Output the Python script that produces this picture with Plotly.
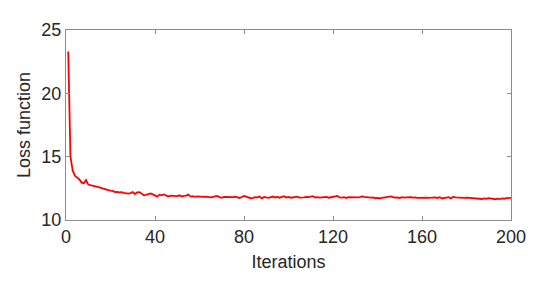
import plotly.graph_objects as go

# ---------------------------------------------------------------
# data
# ---------------------------------------------------------------
iterations = list(range(1, 201))

loss = [
    23.30, 15.00, 13.90, 13.50, 13.35, 13.20, 12.95, 12.90, 13.15, 12.80,
    12.75, 12.72, 12.68, 12.62, 12.58, 12.52, 12.45, 12.40, 12.35, 12.32,
    12.30, 12.20, 12.22, 12.18, 12.20, 12.14, 12.10, 12.08, 12.12, 12.20,
    12.05, 12.18, 12.20, 12.05, 11.95, 11.98, 12.05, 12.10, 12.02, 11.90,
    11.85, 12.00, 11.95, 12.02, 11.90, 11.85, 11.92, 11.90, 11.93, 11.88,
    11.95, 11.85, 11.90, 11.92, 12.00, 11.85, 11.88, 11.83, 11.86, 11.84,
    11.87, 11.82, 11.85, 11.80, 11.78, 11.82, 11.85, 11.90, 11.80, 11.75,
    11.82, 11.80, 11.78, 11.82, 11.80, 11.85, 11.78, 11.74, 11.82, 11.90,
    11.85, 11.78, 11.72, 11.75, 11.80, 11.78, 11.85, 11.70, 11.82, 11.78,
    11.75, 11.80, 11.85, 11.78, 11.82, 11.76, 11.80, 11.88, 11.78, 11.82,
    11.76, 11.80, 11.78, 11.84, 11.76, 11.80, 11.78, 11.82, 11.80, 11.84,
    11.88, 11.78, 11.80, 11.76, 11.80, 11.78, 11.82, 11.76, 11.80, 11.82,
    11.84, 11.90, 11.78, 11.76, 11.80, 11.74, 11.80, 11.78, 11.82, 11.76,
    11.78, 11.80, 11.86, 11.82, 11.78, 11.80, 11.76, 11.78, 11.72, 11.75,
    11.70, 11.74, 11.78, 11.80, 11.82, 11.86, 11.80, 11.76, 11.78, 11.74,
    11.80, 11.76, 11.78, 11.82, 11.80, 11.76, 11.78, 11.74, 11.76, 11.78,
    11.75, 11.77, 11.74, 11.76, 11.72, 11.78, 11.74, 11.80, 11.70, 11.72,
    11.76, 11.80, 11.70, 11.84, 11.78, 11.76, 11.78, 11.75, 11.74, 11.76,
    11.74, 11.72, 11.75, 11.70, 11.68, 11.70, 11.66, 11.70, 11.68, 11.72,
    11.68, 11.66, 11.64, 11.68, 11.65, 11.70, 11.68, 11.72, 11.74, 11.75,
]

x_ticks = [0, 40, 80, 120, 160, 200]
y_ticks = [10, 15, 20, 25]

# ---------------------------------------------------------------
# figure
# ---------------------------------------------------------------
fig = go.Figure()

fig.add_trace(go.Scatter(
    x=iterations,
    y=loss,
    mode="lines",
    line=dict(color="#ff0000", width=1.8),
    showlegend=False,
))

axis_style = dict(
    showline=True,
    linecolor="#8c8c8c",
    linewidth=1,
    mirror="ticks",
    ticks="inside",
    ticklen=4,
    tickcolor="#8c8c8c",
    showgrid=False,
    zeroline=False,
    tickfont=dict(size=18, color="#262626"),
)

# page body has an 8px margin, so the figure is 8px smaller each way
fig.update_layout(
    width=542,
    height=275,
    margin=dict(l=58, r=39, t=12, b=63),
    paper_bgcolor="white",
    plot_bgcolor="white",
    font=dict(family="Liberation Sans, Arial, sans-serif", color="#262626"),
    xaxis=dict(
        axis_style,
        range=[0, 200],
        tickvals=x_ticks,
        title=dict(text="Iterations", font=dict(size=18), standoff=9),
    ),
    yaxis=dict(
        axis_style,
        range=[10, 25],
        tickvals=y_ticks,
        title=dict(text="Loss function", font=dict(size=18), standoff=6),
    ),
)

fig.write_html("out.html")
